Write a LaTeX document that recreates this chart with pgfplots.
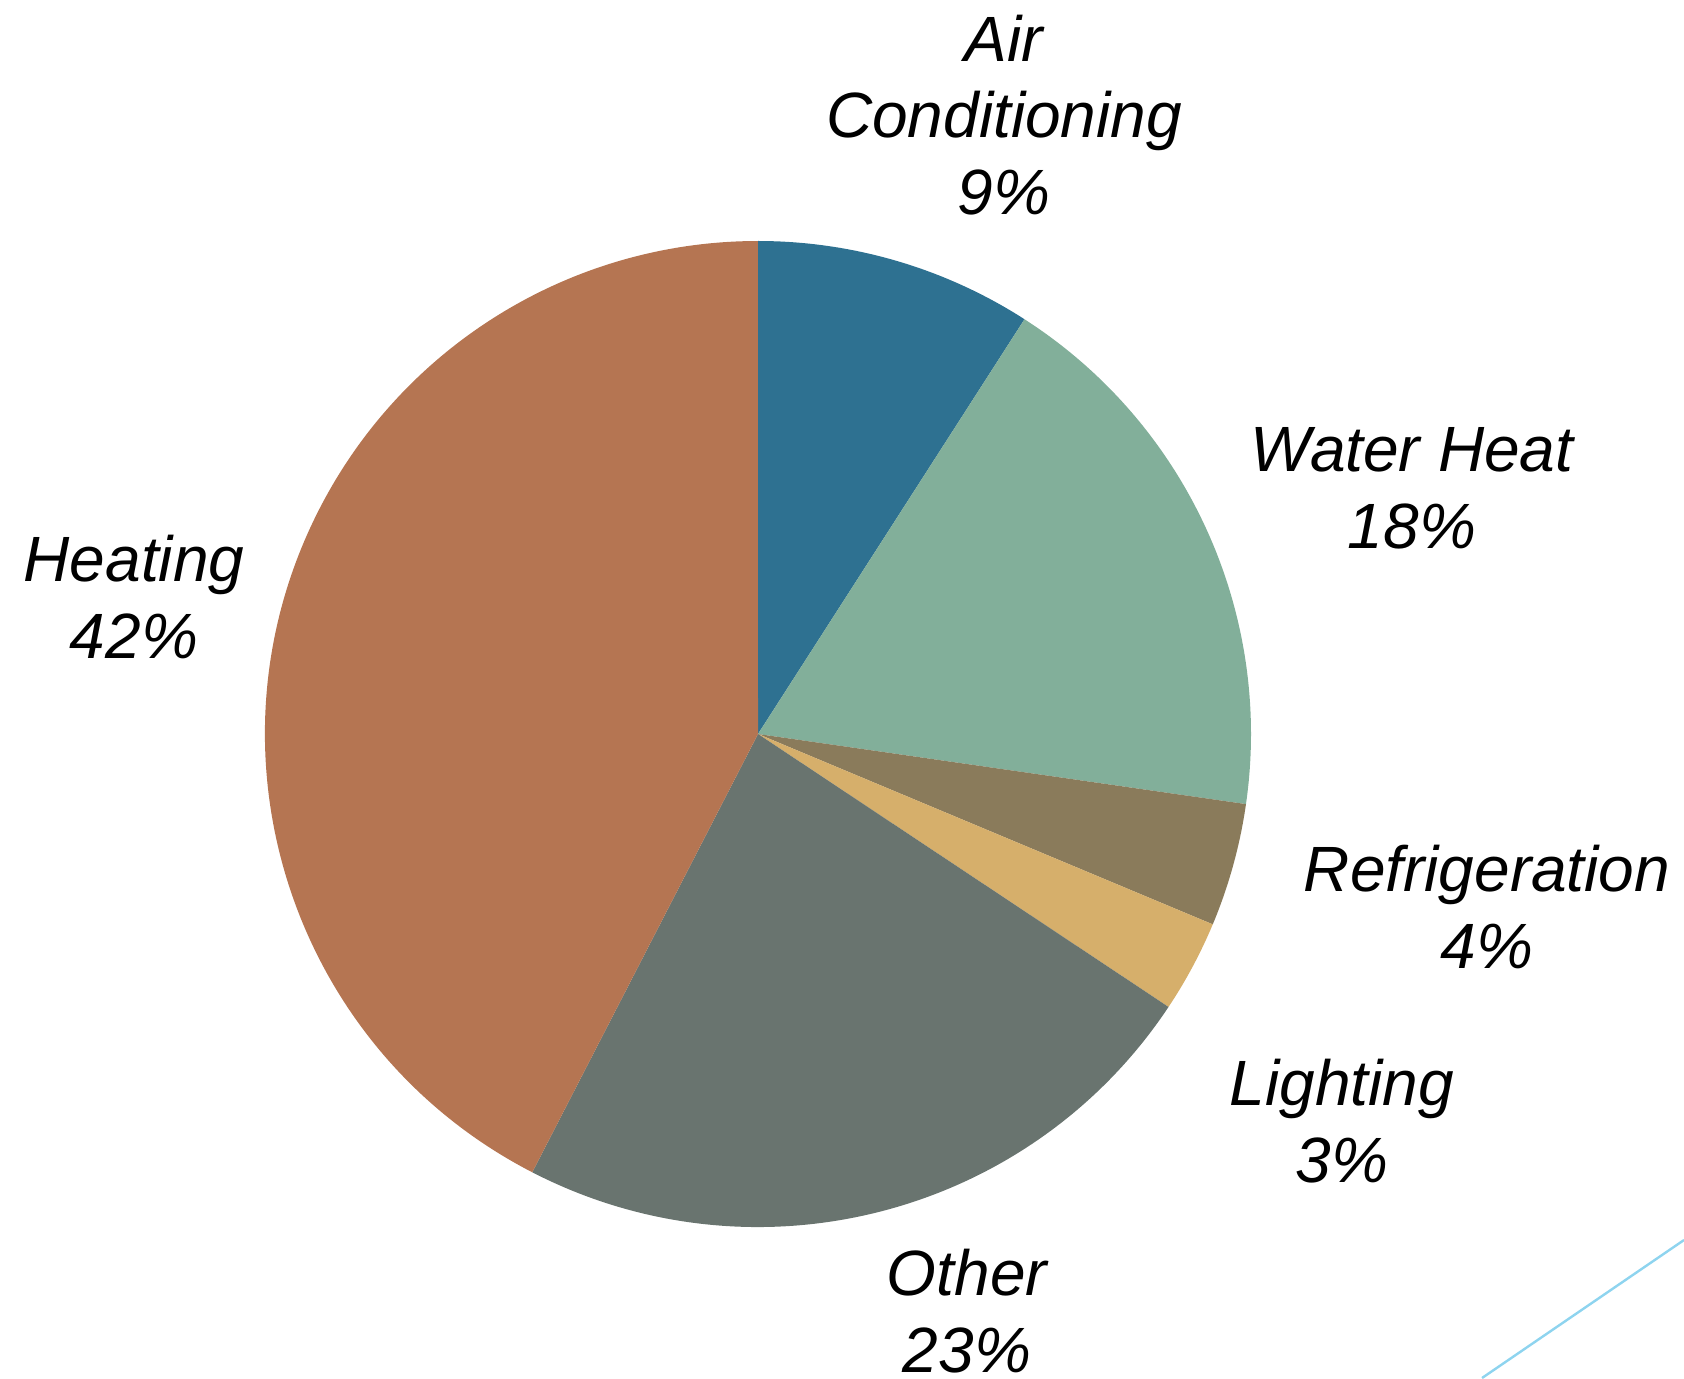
\documentclass[border=0pt]{standalone}
\usepackage{pgfplots}
\pgfplotsset{compat=1.18}
\usepackage{fontspec}
\setmainfont{Liberation Sans}
\definecolor{cAC}{HTML}{2E7191}
\definecolor{cWH}{HTML}{82AF9A}
\definecolor{cRF}{HTML}{8A7B5B}
\definecolor{cLT}{HTML}{D6AF6B}
\definecolor{cOT}{HTML}{69746F}
\definecolor{cHT}{HTML}{B57552}
\definecolor{cLine}{HTML}{8ED4EF}
% values (percent), clockwise from the top
\def\vAC{9}\def\vWH{18}\def\vRF{4}\def\vLT{3}\def\vOT{23}\def\vHT{42}
\pgfmathsetmacro\tot{\vAC+\vWH+\vRF+\vLT+\vOT+\vHT}
\pgfmathsetmacro\tA{90}
\pgfmathsetmacro\tB{\tA-\vAC/\tot*360}
\pgfmathsetmacro\tC{\tB-\vWH/\tot*360}
\pgfmathsetmacro\tD{\tC-\vRF/\tot*360}
\pgfmathsetmacro\tE{\tD-\vLT/\tot*360}
\pgfmathsetmacro\tF{\tE-\vOT/\tot*360}
\pgfmathsetmacro\tG{\tF-\vHT/\tot*360}
\def\cx{758}\def\cy{644}\def\R{493}
\newcommand\slice[3]{\fill[#3] (axis cs:\cx,\cy) -- (axis cs:{\cx+\R*cos(#1)},{\cy+\R*sin(#1)}) arc[start angle=#1, end angle=#2, radius=246.5pt] -- cycle;}
\begin{document}
\begin{tikzpicture}
\begin{axis}[width=842pt,height=689pt,scale only axis,hide axis,
  xmin=0,xmax=1684,ymin=0,ymax=1378,clip=false]
\addplot[draw=none] coordinates {(0,0) (1684,1378)};
\slice{\tA}{\tB}{cAC}
\slice{\tB}{\tC}{cWH}
\slice{\tC}{\tD}{cRF}
\slice{\tD}{\tE}{cLT}
\slice{\tE}{\tF}{cOT}
\slice{\tF}{\tG}{cHT}
\draw[cLine,line width=1.2pt] (axis cs:1482,0) -- (axis cs:1684,138);
\tikzset{lab/.style={align=center,font=\itshape\fontsize{32}{38.4}\selectfont,inner sep=0pt}}
\node[lab] at (axis cs:1004,1263) {Air\\Conditioning\\9\%};
\node[lab] at (axis cs:1412,890) {Water Heat\\18\%};
\node[lab] at (axis cs:1487,471) {Refrigeration\\4\%};
\node[lab] at (axis cs:1342,257) {Lighting\\3\%};
\node[lab] at (axis cs:967,67) {Other\\23\%};
\node[lab] at (axis cs:134,781) {Heating\\42\%};
\end{axis}
\pgfresetboundingbox
\path (0,0) rectangle (842pt,689pt);
\end{tikzpicture}
\end{document}
